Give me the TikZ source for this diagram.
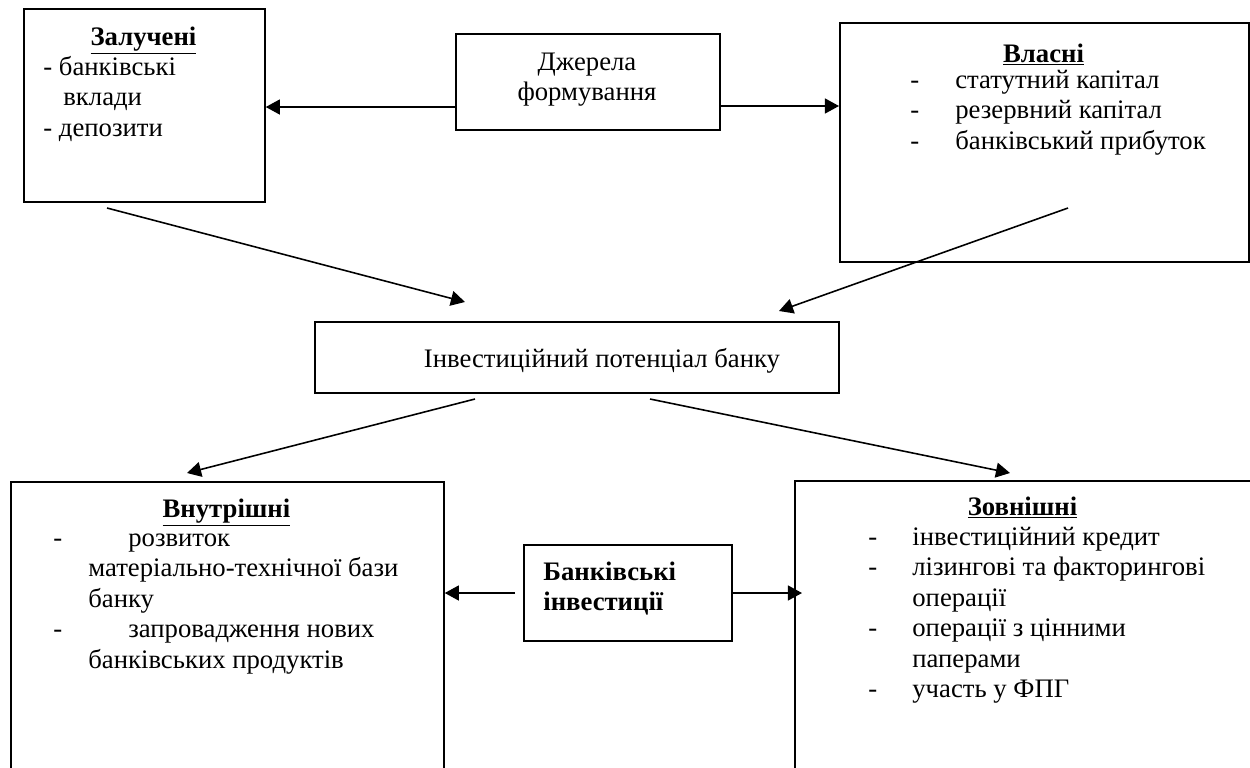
\documentclass[tikz,border=0pt]{standalone}
\usepackage{fontspec}
\setmainfont{Liberation Serif}
\usetikzlibrary{arrows.meta}

\begin{document}
\begin{tikzpicture}[x=0.2mm,y=-0.2mm,font=\fontsize{15.2}{17.4}\selectfont]

        \tikzstyle{box} = [draw, line width=1pt, inner sep=0pt, anchor=north west]
        \tikzstyle{arr} = [line width=0.9pt, -{Triangle[length=8pt,width=8.5pt]}]
        \tikzstyle{txt} = [inner sep=0pt, anchor=base]

        \useasboundingbox (0,0) rectangle (1250,767);
        \clip (0,0) rectangle (1250,767);

        % boxes: name / left / top / width / height
        \foreach \n/\x/\y/\w/\h in {zal/23/8/241/193, dzh/455/33/264/96, vl/839/22/409/239,
                pot/314/321/524/71, vnu/10/481/433/330, inv/523/544/208/96, zov/794/480/458/330}
        {
                \node [box, minimum width=\w*0.2mm, minimum height=\h*0.2mm] (\n) at (\x,\y) {};
        }

        \node [txt] (dzhT) at (587,70) {\begin{tabular}[t]{@{}c@{}}Джерела\\формування\end{tabular}};

        \node [txt] (zalT) at (143.5,45) {\underline{\textbf{Залучені}}};
        \node [txt, anchor=base west] (zalL) at (43,75)
                {\begin{tabular}[t]{@{}l@{}}- банківські\\\hspace*{4mm}вклади\\- депозити\end{tabular}};

        \node [txt] (vlT) at (1043.5,62) {\underline{\textbf{Власні}}};
        \node [txt, anchor=base west] (vlL) at (910,88)
                {\begin{tabular}[t]{@{}p{9mm}@{}l@{}}
                -&статутний капітал\\
                -&резервний капітал\\
                -&банківський прибуток
                \end{tabular}};

        \node [txt] (potT) at (602,367) {Інвестиційний потенціал банку};

        \node [txt] (vnuT) at (226.5,517) {\underline{\textbf{Внутрішні}}};
        \node [txt, anchor=base west] (vnuL) at (53,546)
                {\begin{tabular}[t]{@{}p{7mm}@{}l@{}}
                -&\hspace*{8mm}розвиток\\
                 &матеріально-технічної бази\\
                 &банку\\
                -&\hspace*{8mm}запровадження нових\\
                 &банківських продуктів
                \end{tabular}};

        \node [txt, anchor=base west] (invT) at (543,580)
                {\bfseries\begin{tabular}[t]{@{}l@{}}Банківські\\інвестиції\end{tabular}};

        \node [txt] (zovT) at (1022.5,515) {\underline{\textbf{Зовнішні}}};
        \node [txt, anchor=base west] (zovL) at (868,545)
                {\begin{tabular}[t]{@{}p{8.8mm}@{}l@{}}
                -&інвестиційний кредит\\
                -&лізингові та факторингові\\
                 &операції\\
                -&операції з цінними\\
                 &паперами\\
                -&участь у ФПГ
                \end{tabular}};

        % free ends of the slanted arrows
        \coordinate (a1) at (107,208);
        \coordinate (a2) at (465,302);
        \coordinate (b1) at (1068,208);
        \coordinate (b2) at (779,311);
        \coordinate (c1) at (475,399);
        \coordinate (c2) at (187,473);
        \coordinate (d1) at (650,399);
        \coordinate (d2) at (1010,473);

        \draw [arr] (dzh.west |- 0,107) -- (zal.east |- 0,107);
        \draw [arr] (dzh.east |- 0,106) -- (vl.west |- 0,106);

        \draw [arr] (a1) -- (a2);
        \draw [arr] (b1) -- (b2);
        \draw [arr] (c1) -- (c2);
        \draw [arr] (d1) -- (d2);

        \draw [arr, shorten <=1.6mm] (inv.west |- 0,593) -- (vnu.east |- 0,593);
        \draw [arr, shorten >=-1.6mm] (inv.east |- 0,593) -- (zov.west |- 0,593);

\end{tikzpicture}
\end{document}
